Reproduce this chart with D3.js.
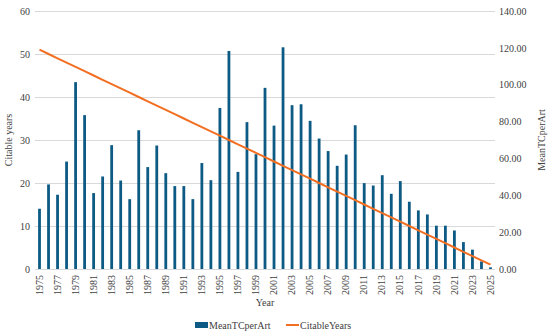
<!DOCTYPE html>
<html>
<head>
<meta charset="utf-8">
<script src="https://d3js.org/d3.v7.min.js"></script>
<style>
  body { margin: 0; background: #fff; }
</style>
</head>
<body>
<svg id="chart" width="550" height="336"></svg>
<script>
// years 1975..2025
var years = [];
for (var y = 1975; y <= 2025; y++) years.push(y);

// MeanTCperArt (right axis)
var meanTC = [32.7, 45.9, 40.3, 58.3, 101.4, 83.5, 41.2, 50.2, 67.2, 48.0,
              37.9, 75.3, 55.3, 67.0, 52.0, 45.0, 45.0, 37.9, 57.5, 48.2,
              87.4, 118.3, 52.7, 79.7, 62.3, 98.3, 77.8, 120.3, 88.9, 89.4,
              80.4, 70.8, 64.0, 56.0, 62.1, 78.0, 46.6, 45.3, 50.9, 40.8,
              47.7, 36.5, 31.8, 29.6, 23.5, 23.5, 20.9, 14.6, 10.5, 4.1, 0.9];

// CitableYears (left axis)
var citable = [51, 50, 49, 48, 47, 46, 45, 44, 43, 42, 41, 40, 39, 38, 37, 36, 35,
               34, 33, 32, 31, 30, 29, 28, 27, 26, 25, 24, 23, 22, 21, 20, 19, 18,
               17, 16, 15, 14, 13, 12, 11, 10, 9, 8, 7, 6, 5, 4, 3, 2, 1];

var leftTicks = [0, 10, 20, 30, 40, 50, 60];
var rightTicks = [0, 20, 40, 60, 80, 100, 120, 140];

var barColor = "#0d5b84", lineColor = "#f26f22";
var FONT = "'Liberation Serif', 'Times New Roman', serif";
var margin = {left: 35, right: 55, top: 11, bottom: 67};
var W = 550, H = 336;

var svg = d3.select("#chart");

var x = d3.scaleBand().domain(years).range([margin.left, W - margin.right]);
var yL = d3.scaleLinear().domain([0, 60]).range([H - margin.bottom, margin.top]);
var yR = d3.scaleLinear().domain([0, 140]).range([H - margin.bottom, margin.top]);

// gridlines
svg.append("g").selectAll("line")
  .data(leftTicks).enter().append("line")
    .attr("x1", margin.left).attr("x2", W - margin.right)
    .attr("y1", function(d) { return yL(d) + 0.5; })
    .attr("y2", function(d) { return yL(d) + 0.5; })
    .attr("stroke", "#d9d9d9").attr("stroke-width", 1);

// left axis
var axL = svg.append("g")
  .attr("transform", "translate(" + (margin.left - 5) + ",0)")
  .call(d3.axisLeft(yL).tickValues(leftTicks).tickSize(0).tickPadding(0));
axL.select(".domain").remove();

// right axis
var axR = svg.append("g")
  .attr("transform", "translate(" + (W - margin.right + 4) + ",0)")
  .call(d3.axisRight(yR).tickValues(rightTicks).tickSize(0).tickPadding(0)
    .tickFormat(d3.format(".2f")));
axR.select(".domain").remove();

// bars
svg.append("g").selectAll("rect")
  .data(meanTC).enter().append("rect")
    .attr("x", function(d, i) { return x(years[i]) + x.bandwidth() / 2 - 1.4; })
    .attr("width", 2.8)
    .attr("y", function(d) { return yR(d); })
    .attr("height", function(d) { return yR(0) - yR(d); })
    .attr("fill", barColor);

// line
var line = d3.line()
  .x(function(d, i) { return x(years[i]) + x.bandwidth() / 2; })
  .y(function(d) { return yL(d); });
svg.append("path")
  .datum(citable)
  .attr("d", line)
  .attr("fill", "none")
  .attr("stroke", lineColor)
  .attr("stroke-width", 2);

// x axis labels (every other year)
var axX = svg.append("g")
  .attr("transform", "translate(0," + (H - margin.bottom) + ")")
  .call(d3.axisBottom(x).tickValues(years.filter(function(d) { return (d - 1975) % 2 == 0; }))
    .tickSize(0).tickPadding(0));
axX.select(".domain").remove();
axX.selectAll("text")
  .attr("text-anchor", "end")
  .attr("dy", "0.32em")
  .attr("transform", "translate(0,6) rotate(-90)");

// axis titles
svg.append("text")
  .attr("transform", "translate(12,140) rotate(-90)")
  .attr("text-anchor", "middle")
  .text("Citable years");
svg.append("text")
  .attr("transform", "translate(545,140) rotate(-90)")
  .attr("text-anchor", "middle")
  .text("MeanTCperArt");
svg.append("text")
  .attr("x", 265).attr("y", 306)
  .attr("text-anchor", "middle")
  .text("Year");

// legend
var leg = svg.append("g").attr("transform", "translate(0,325)");
leg.append("rect").attr("x", 195).attr("y", -3).attr("width", 13).attr("height", 6).attr("fill", barColor);
leg.append("text").attr("x", 209).attr("y", 3.5).text("MeanTCperArt");
leg.append("line").attr("x1", 286).attr("x2", 299).attr("y1", 0).attr("y2", 0)
  .attr("stroke", lineColor).attr("stroke-width", 2);
leg.append("text").attr("x", 300).attr("y", 3.5).text("CitableYears");

svg.selectAll("text")
  .style("font-family", FONT)
  .style("font-size", "10px")
  .style("fill", "#404040");
</script>
</body>
</html>
